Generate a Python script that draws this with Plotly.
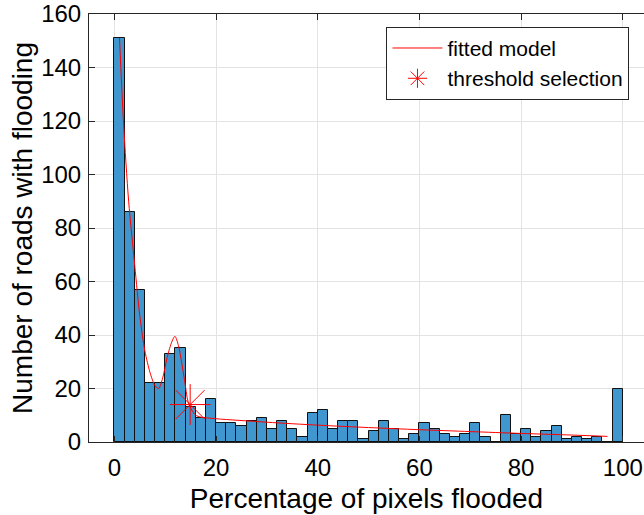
import plotly.graph_objects as go

# Histogram bins (width 2, centres 1..99) and counts
bin_centers = [1 + 2 * i for i in range(50)]
counts = [151, 86, 57, 22, 22, 33, 35, 13, 9, 16,
          7, 7, 6, 8, 9, 5, 8, 5, 2, 11,
          12, 5, 8, 8, 1, 4, 8, 5, 1, 3,
          7, 5, 3, 2, 3, 7, 2, 0, 10, 3,
          5, 2, 4, 6, 1, 2, 1, 2, 0, 20]

# Fitted model curve
fit_x = [1, 1.8, 2.8, 4, 5, 6, 7, 8, 8.7, 9.5, 10.3, 11.2, 11.9, 12.6, 13.2,
         13.8, 14.5, 15.2, 16, 17, 20, 30, 40, 50, 60, 70, 80, 90, 97]
fit_y = [151, 119, 90, 66, 47, 34, 26, 21, 20, 24, 31, 37, 39.5, 36, 30,
         23, 15, 12, 10, 9.3, 8.7, 7.4, 6.3, 5.4, 4.6, 3.9, 3.2, 2.6, 2.1]

# Threshold selection point
thr_x = [14.9]
thr_y = [14]

x_ticks = [0, 20, 40, 60, 80, 100]
y_ticks = [0, 20, 40, 60, 80, 100, 120, 140, 160]

FONT = "Liberation Sans, Arial, sans-serif"
AX = "#262626"

fig = go.Figure()
fig.add_trace(go.Bar(
    x=bin_centers, y=counts, width=2,
    marker=dict(color="rgb(64,150,206)", line=dict(color="#111111", width=1)),
    showlegend=False,
))
fig.add_trace(go.Scatter(
    x=fit_x, y=fit_y, mode="lines", name="fitted model",
    line=dict(color="red", width=1, shape="spline", smoothing=0.8),
))
fig.add_trace(go.Scatter(
    x=thr_x, y=thr_y, mode="markers", name="threshold selection",
    marker=dict(symbol="asterisk-open", size=34, color="red",
                line=dict(color="red", width=1)),
))

fig.update_layout(
    width=644, height=515,
    margin=dict(l=89, r=0, t=14, b=73),
    paper_bgcolor="white", plot_bgcolor="white",
    font=dict(family=FONT, color="black"),
    bargap=0,
    legend=dict(
        x=0.536, y=0.97, xanchor="left", yanchor="top",
        bgcolor="white", bordercolor=AX, borderwidth=1,
        font=dict(family=FONT, size=21, color="black"),
        itemwidth=50, tracegroupgap=0,
    ),
    xaxis=dict(
        range=[-5, 104.17], tickvals=x_ticks, automargin=False,
        showline=True, linecolor=AX, linewidth=1, mirror="ticks",
        ticks="inside", ticklen=6, tickcolor=AX,
        showgrid=True, gridcolor="#e3e3e3", gridwidth=1,
        zeroline=False,
        tickfont=dict(family=FONT, size=24, color="black"),
        ticklabelstandoff=4,
        title=dict(text="Percentage of pixels flooded",
                   font=dict(family=FONT, size=28, color="black"),
                   standoff=8),
    ),
    yaxis=dict(
        range=[0, 160], tickvals=y_ticks, automargin=False,
        showline=True, linecolor=AX, linewidth=1, mirror=False,
        ticks="inside", ticklen=6, tickcolor=AX,
        showgrid=True, gridcolor="#e3e3e3", gridwidth=1,
        zeroline=False,
        tickfont=dict(family=FONT, size=24, color="black"),
        ticklabelstandoff=2,
        title=dict(text="Number of roads with flooding",
                   font=dict(family=FONT, size=28, color="black"),
                   standoff=0),
    ),
)

fig.write_html(
    "out.html",
    config={"displayModeBar": False},
    post_script="document.body.style.margin='0';document.body.style.overflow='hidden';",
)
